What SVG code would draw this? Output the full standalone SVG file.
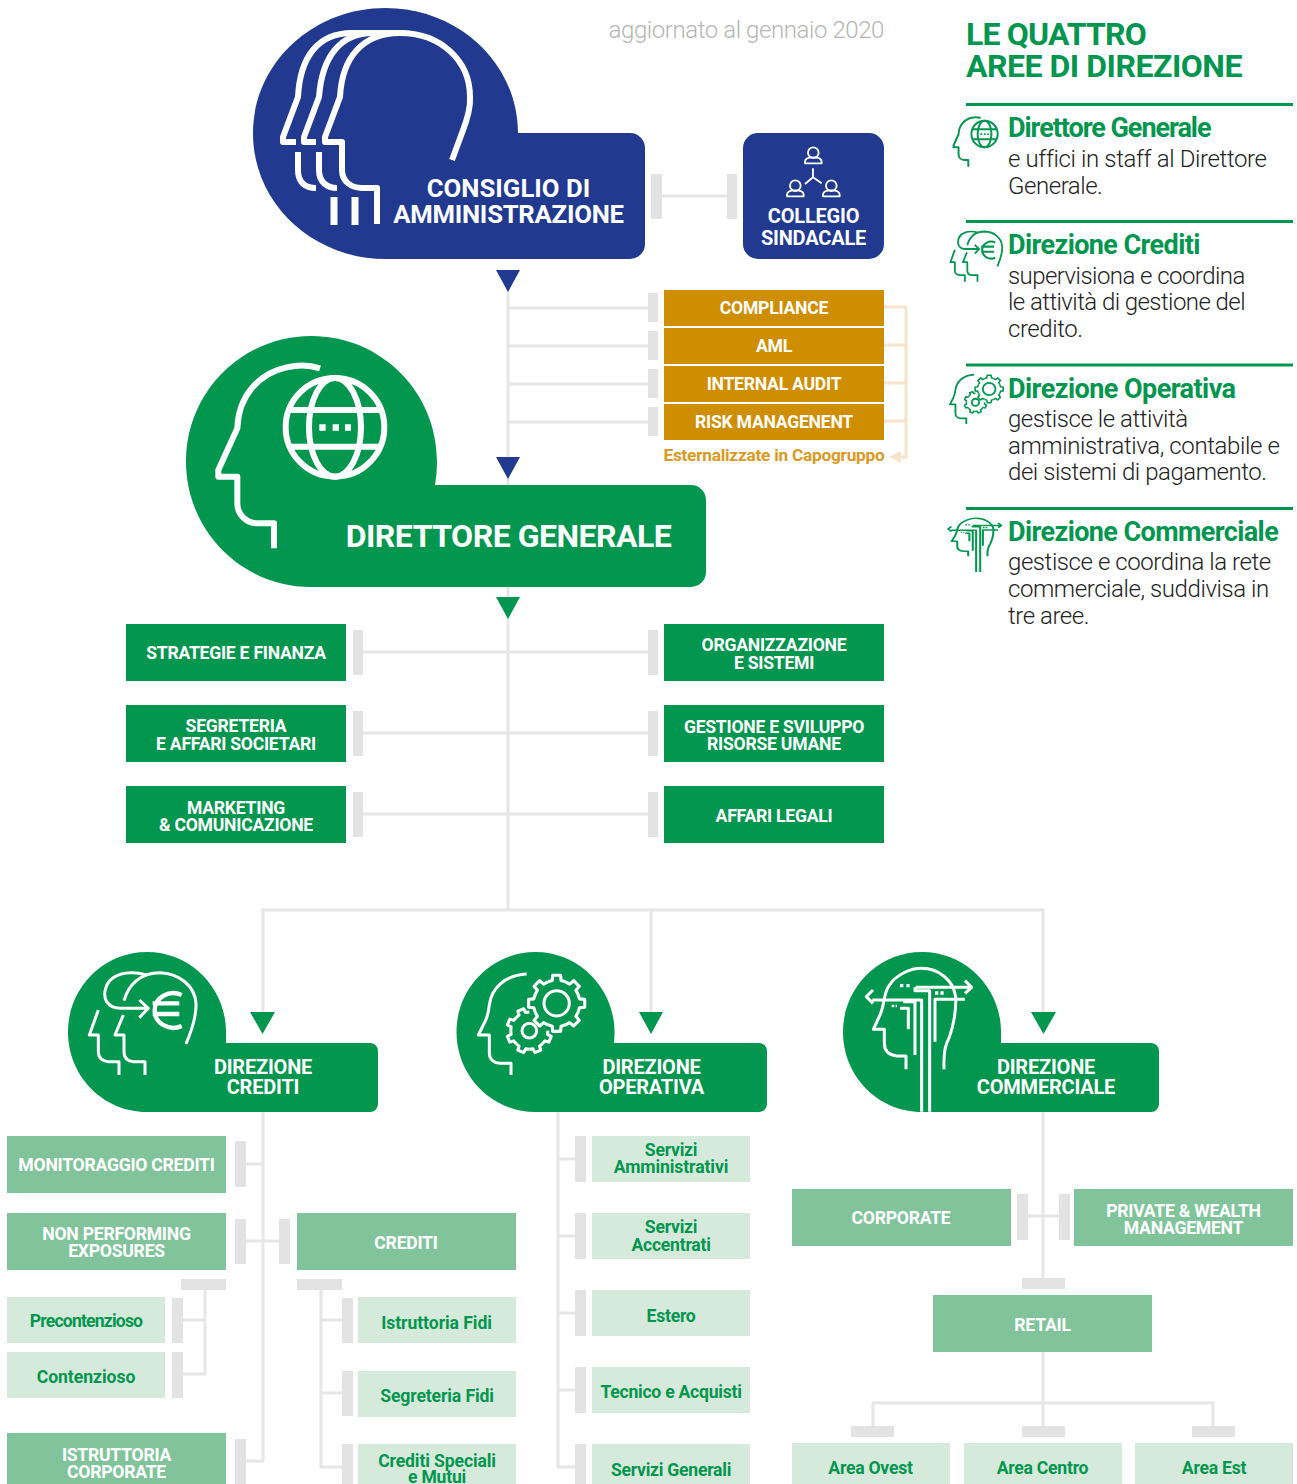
<svg xmlns="http://www.w3.org/2000/svg" xmlns:xlink="http://www.w3.org/1999/xlink" width="1297" height="1484" viewBox="0 0 1297 1484">
<style>
text{font-family:Roboto,"Liberation Sans",sans-serif;text-anchor:middle}
.b{font-weight:700;font-size:17.6px;letter-spacing:-.25px;fill:#fff}
.g{font-weight:700;font-size:17.6px;letter-spacing:-.25px;fill:#02964f}
.t{font-weight:700;font-size:20px;letter-spacing:-.2px;fill:#fff}
.h{font-weight:700;font-size:27px;letter-spacing:-.6px;fill:#02964f;text-anchor:start}
.p{font-weight:300;font-size:24px;letter-spacing:-.45px;fill:#222;text-anchor:start}
.ti{font-weight:700;font-size:32px;fill:#02964f;text-anchor:start}
.navy{fill:#213a8f}.green{fill:#02964f}.mid{fill:#81c49c}.pale{fill:#d6eadc}.ochre{fill:#ce8e00}
.cap{fill:#e3e3e3}
.ln{fill:none;stroke:#e6e6e6;stroke-width:3}
.ol{fill:none;stroke:#f6e4cb;stroke-width:3}
.ic{fill:none;stroke-linecap:butt;stroke-linejoin:round}
.wt{stroke:#fff;color:#fff}.gn{stroke:#02964f;color:#02964f}
.rule{stroke:#02964f;stroke-width:3}
</style>
<defs>
<g id="ico-dg">
<path d="M420 115C390 105 350 105 320 112C235 130 175 200 172 295L115 420V440H172V520C172 555 200 580 235 580H282V655"/>
<circle cx="465" cy="292" r="148"/>
<ellipse cx="465" cy="292" rx="78" ry="148"/>
<path d="M327 240H603M329 350H601"/>
<path d="M418 283h19v19h-19zM458 283h19v19h-19zM495 283h18v19h-18z" fill="currentColor" stroke="none"/>
</g>
<g id="ico-cr">
<path d="M378 312C400 260 410 225 408 190C405 140 360 100 300 98C240 98 205 135 192 182"/>
<path d="M258 105C230 95 190 95 165 110C135 125 128 165 140 185C150 200 165 205 180 205H265M238 180L265 205L238 233"/>
<path d="M190 225L165 285H192V335C192 355 205 365 220 365H255V405"/>
<path d="M115 210L88 285H115V335C115 355 130 365 145 365H177V405"/>
<path d="M365 165A56 52 0 1 0 365 258M278 190H358M278 222H358" stroke-width="13"/>
</g>
<path id="tooth" d="M-.314-.758L-.156-.805L-.139-.99H.139L.156-.805L.314-.758"/>
<g id="ico-op">
<path d="M230 102C170 105 125 140 118 195Q115 225 105 245L85 285H118V340C118 360 135 370 150 370H183V405"/>
<circle cx="320" cy="190" r="38"/>
<circle cx="238" cy="272" r="22"/>
<g transform="translate(320 190) scale(85)" stroke-width=".11">
<use href="#tooth"/><use href="#tooth" transform="rotate(45)"/><use href="#tooth" transform="rotate(90)"/><use href="#tooth" transform="rotate(135)"/><use href="#tooth" transform="rotate(180)"/><use href="#tooth" transform="rotate(225)"/><use href="#tooth" transform="rotate(270)"/><use href="#tooth" transform="rotate(315)"/>
</g>
<g transform="translate(238 272) scale(68)" stroke-width=".135">
<use href="#tooth" transform="rotate(112.5)"/><use href="#tooth" transform="rotate(157.5)"/><use href="#tooth" transform="rotate(202.5)"/><use href="#tooth" transform="rotate(247.5)"/><use href="#tooth" transform="rotate(292.5)"/><use href="#tooth" transform="rotate(337.5)"/>
</g>
</g>
<g id="ico-co">
<path d="M213 388V348H185C160 345 148 330 148 310V268H115L135 225C150 190 145 165 160 140C185 100 230 85 260 85C310 85 355 120 362 170C365 220 350 280 335 310C325 335 327 360 327 388"/>
<path d="M112 180H260V515M114 150L94 170L114 190M242 142H408M390 122L410 142L390 160M240 142V152H284V515M300 305V178H390M240 345V185H205M195 205H220V268"/>
<path d="M195 132h10v10h-10zM214 132h10v10h-10zM300 154h10v10h-10zM316 154h10v10h-10zM170 194h8v8h-8zM182 194h4v8h-4z" fill="currentColor" stroke="none"/>
</g>
<g id="person">
<circle cx="0" cy="-17" r="16"/>
<path d="M-25 15V10C-25 0-12-3 0-3C12-3 25 0 25 10V15Z"/>
</g>
</defs>

<g id="connectors">
<path class="ln" d="M508 290V910M508 308H650M508 346H650M508 384H650M508 422H650M360 652H650M360 733H650M360 814H650M263 1012V910H1043V1012M651 910V1012"/>
<path class="ln" d="M660 196H730"/>
<path class="ol" d="M884 307H906M884 345H906M884 383H906M884 421H906M906 307V457H898"/>
<path fill="#f6e4cb" d="M889 457L901 451V463Z"/>
<path class="ln" d="M263 1112V1461H246M246 1164H263M246 1241H280M205 1290V1374H183M183 1320H205M321 1290V1467H342M321 1320H342M321 1393H342"/>
<path class="ln" d="M558 1112V1467H575M558 1159H575M558 1236H575M558 1313H575M558 1390H575"/>
<path class="ln" d="M1043 1112V1280M1028 1216H1060M1043 1352V1427M873 1427V1403H1213V1427"/>
<g class="cap">
<rect x="651" y="174" width="11" height="45"/><rect x="727" y="174" width="10" height="45"/>
<rect x="648" y="293" width="10" height="29"/><rect x="648" y="331" width="10" height="29"/><rect x="648" y="369" width="10" height="29"/><rect x="648" y="407" width="10" height="29"/>
<rect x="353" y="630" width="10" height="45"/><rect x="648" y="630" width="10" height="45"/>
<rect x="353" y="711" width="10" height="45"/><rect x="648" y="711" width="10" height="45"/>
<rect x="353" y="792" width="10" height="45"/><rect x="648" y="792" width="10" height="45"/>
<rect x="235" y="1141" width="11" height="46"/><rect x="235" y="1219" width="11" height="45"/><rect x="279" y="1219" width="11" height="45"/><rect x="235" y="1439" width="11" height="45"/>
<rect x="181" y="1279" width="45" height="11"/><rect x="172" y="1298" width="11" height="45"/><rect x="172" y="1352" width="11" height="46"/>
<rect x="297" y="1279" width="45" height="11"/><rect x="342" y="1298" width="11" height="45"/><rect x="342" y="1371" width="11" height="45"/><rect x="342" y="1444" width="11" height="40"/>
<rect x="575" y="1136" width="11" height="46"/><rect x="575" y="1213" width="11" height="46"/><rect x="575" y="1290" width="11" height="46"/><rect x="575" y="1367" width="11" height="46"/><rect x="575" y="1444" width="11" height="40"/>
<rect x="1017" y="1194" width="11" height="46"/><rect x="1059" y="1194" width="11" height="46"/><rect x="1022" y="1278" width="43" height="11"/>
<rect x="851" y="1426" width="43" height="11"/><rect x="1022" y="1426" width="43" height="11"/><rect x="1192" y="1426" width="43" height="11"/>
</g>
<path class="navy" d="M496 270H520L508 292ZM496 457H520L508 479Z"/>
<path class="green" d="M496 597H520L508 619ZM250 1012H275L262.500 1034ZM639 1012H663L651 1034ZM1031 1012H1056L1043.500 1034Z"/>
</g>

<text x="884" y="38" style="font-weight:300;font-size:24px;letter-spacing:-.42px;fill:#b5b5b5;text-anchor:end">aggiornato al gennaio 2020</text>

<g id="consiglio">
<path class="navy" d="M518 133H630A15 15 0 0 1 645 148V244A15 15 0 0 1 630 259H385.500C312 259 253 203 253 133.500C253 64 312 8 385.500 8C459 8 518 64 518 133Z"/>
<g class="ic wt" stroke-width="6">
<path d="M452 160L462 133Q471 110 470 97C470 60 440 33 400 33C363 33 342 57 340 97L325 137V142H342V170C342 182 352 188 362 188H377V224"/>
<path d="M405 33H373C340 33 322 57 319 97L304 137V142H316M319 152V170C319 182 327 188 337 188"/>
<path d="M380 33H352C318 33 300 57 298 97L283 137V142H296M298 152V170C298 182 305 188 316 188"/>
<path d="M334 197V225M355 197V225" stroke-width="7"/>
</g>
<text x="508.500" y="197" class="t" style="font-size:25.700px;letter-spacing:.02px">CONSIGLIO DI</text>
<text x="508.500" y="223" class="t" style="font-size:25.700px;letter-spacing:-.25px">AMMINISTRAZIONE</text>
</g>

<g id="collegio">
<rect class="navy" x="743" y="133" width="141" height="126" rx="15"/>
<g class="ic wt" transform="translate(640 120) scale(.3333)" stroke-width="5.500">
<use href="#person" x="520" y="115"/><use href="#person" x="466" y="214"/><use href="#person" x="574" y="214"/>
<path d="M519 145V172L495 192M519 172L545 190"/>
</g>
<text x="813.500" y="223" class="t">COLLEGIO</text>
<text x="813.500" y="245" class="t">SINDACALE</text>
</g>

<g id="compliance"><rect class="ochre" x="664" y="290" width="220" height="36"/><text x="774" y="314" class="b">COMPLIANCE</text></g>
<g id="aml"><rect class="ochre" x="664" y="328" width="220" height="36"/><text x="774" y="352" class="b">AML</text></g>
<g id="internal-audit"><rect class="ochre" x="664" y="366" width="220" height="36"/><text x="774" y="390" class="b">INTERNAL AUDIT</text></g>
<g id="risk"><rect class="ochre" x="664" y="404" width="220" height="36"/><text x="774" y="428" class="b">RISK MANAGENENT</text></g>
<text x="774" y="461" class="b" style="fill:#db9a1f;font-size:17.300px">Esternalizzate in Capogruppo</text>

<g id="direttore">
<path class="green" d="M435 485H691A15 15 0 0 1 706 500V572A15 15 0 0 1 691 587H311.500C242 587 186 531 186 461.500C186 392 242 336 311.500 336C381 336 437 392 437 461.500Q437 474 435 485Z"/>
<use href="#ico-dg" class="ic wt" transform="translate(180 330) scale(.3333)" stroke-width="18"/>
<text x="508.500" y="547" class="t" style="font-size:32px;letter-spacing:-.5px">DIRETTORE GENERALE</text>
</g>

<g id="strategie"><rect class="green" x="126" y="624" width="220" height="57"/><text x="236" y="659" class="b">STRATEGIE E FINANZA</text></g>
<g id="segreteria"><rect class="green" x="126" y="705" width="220" height="57"/><text x="236" y="732" class="b">SEGRETERIA</text><text x="236" y="750" class="b">E AFFARI SOCIETARI</text></g>
<g id="marketing"><rect class="green" x="126" y="786" width="220" height="57"/><text x="236" y="814" class="b">MARKETING</text><text x="236" y="831" class="b">&amp; COMUNICAZIONE</text></g>
<g id="organizzazione"><rect class="green" x="664" y="624" width="220" height="57"/><text x="774" y="651" class="b">ORGANIZZAZIONE</text><text x="774" y="669" class="b">E SISTEMI</text></g>
<g id="gestione"><rect class="green" x="664" y="705" width="220" height="57"/><text x="774" y="733" class="b">GESTIONE E SVILUPPO</text><text x="774" y="750" class="b">RISORSE UMANE</text></g>
<g id="legali"><rect class="green" x="664" y="786" width="220" height="57"/><text x="774" y="822" class="b">AFFARI LEGALI</text></g>

<g id="dir-crediti">
<path class="green" d="M226 1043H370A8 8 0 0 1 378 1051V1104A8 8 0 0 1 370 1112H147C103 1112 68 1076 68 1032C68 988 103 952 147 952C191 952 226 988 226 1032Q226 1038 226 1043Z"/>
<use href="#ico-cr" class="ic wt" transform="translate(60 940) scale(.3333)" stroke-width="9"/>
<text x="263" y="1074" class="t">DIREZIONE</text><text x="263" y="1094" class="t">CREDITI</text>
</g>
<g id="dir-operativa">
<path class="green" d="M614 1043H759A8 8 0 0 1 767 1051V1104A8 8 0 0 1 759 1112H535.500C492 1112 456.500 1076 456.500 1032C456.500 988 492 952 535.500 952C579 952 614.500 988 614.500 1032Q614.500 1038 614 1043Z"/>
<use href="#ico-op" class="ic wt" transform="translate(450 940) scale(.3333)" stroke-width="9"/>
<text x="651.500" y="1074" class="t">DIREZIONE</text><text x="651.500" y="1094" class="t">OPERATIVA</text>
</g>
<g id="dir-commerciale">
<path class="green" d="M1001 1043H1151A8 8 0 0 1 1159 1051V1104A8 8 0 0 1 1151 1112H922C878 1112 843 1076 843 1032C843 988 878 952 922 952C966 952 1001 988 1001 1032Q1001 1038 1001 1043Z"/>
<use href="#ico-co" class="ic wt" transform="translate(835 940) scale(.3333)" stroke-width="9"/>
<text x="1046" y="1074" class="t">DIREZIONE</text><text x="1046" y="1094" class="t">COMMERCIALE</text>
</g>

<g id="monitoraggio"><rect class="mid" x="7" y="1136" width="219" height="57"/><text x="116.500" y="1171" class="b">MONITORAGGIO CREDITI</text></g>
<g id="npe"><rect class="mid" x="7" y="1213" width="219" height="57"/><text x="116.500" y="1240" class="b">NON PERFORMING</text><text x="116.500" y="1257" class="b">EXPOSURES</text></g>
<g id="precontenzioso"><rect class="pale" x="7" y="1297" width="158" height="46"/><text x="86" y="1327" class="g" style="letter-spacing:-.82px">Precontenzioso</text></g>
<g id="contenzioso"><rect class="pale" x="7" y="1352" width="158" height="46"/><text x="86" y="1383" class="g" style="letter-spacing:-.05px">Contenzioso</text></g>
<g id="istr-corp"><rect class="mid" x="7" y="1433" width="219" height="57"/><text x="116.500" y="1461" class="b">ISTRUTTORIA</text><text x="116.500" y="1478" class="b">CORPORATE</text></g>
<g id="crediti"><rect class="mid" x="297" y="1213" width="219" height="57"/><text x="406" y="1249" class="b">CREDITI</text></g>
<g id="istr-fidi"><rect class="pale" x="358" y="1297" width="158" height="46"/><text x="436.500" y="1329" class="g" style="letter-spacing:-.07px">Istruttoria Fidi</text></g>
<g id="segr-fidi"><rect class="pale" x="358" y="1371" width="158" height="46"/><text x="437" y="1402" class="g" style="letter-spacing:-.12px">Segreteria Fidi</text></g>
<g id="cred-spec"><rect class="pale" x="358" y="1444" width="158" height="46"/><text x="437" y="1467" class="g" style="letter-spacing:-.12px">Crediti Speciali</text><text x="437" y="1483" class="g">e Mutui</text></g>

<g id="serv-amm"><rect class="pale" x="592" y="1136" width="158" height="46"/><text x="671" y="1156" class="g">Servizi</text><text x="671" y="1173" class="g" style="letter-spacing:-.1px">Amministrativi</text></g>
<g id="serv-acc"><rect class="pale" x="592" y="1213" width="158" height="46"/><text x="671" y="1233" class="g">Servizi</text><text x="671" y="1251" class="g">Accentrati</text></g>
<g id="estero"><rect class="pale" x="592" y="1290" width="158" height="46"/><text x="671" y="1322" class="g">Estero</text></g>
<g id="tecnico"><rect class="pale" x="592" y="1367" width="158" height="46"/><text x="671" y="1398" class="g">Tecnico e Acquisti</text></g>
<g id="serv-gen"><rect class="pale" x="592" y="1444" width="158" height="46"/><text x="671" y="1476" class="g">Servizi Generali</text></g>

<g id="corporate"><rect class="mid" x="792" y="1189" width="219" height="57"/><text x="901" y="1224" class="b">CORPORATE</text></g>
<g id="private"><rect class="mid" x="1074" y="1189" width="219" height="57"/><text x="1183.500" y="1217" class="b">PRIVATE &amp; WEALTH</text><text x="1183.500" y="1234" class="b">MANAGEMENT</text></g>
<g id="retail"><rect class="mid" x="933" y="1295" width="219" height="57"/><text x="1042.500" y="1331" class="b">RETAIL</text></g>
<g id="area-ovest"><rect class="pale" x="792" y="1443" width="158" height="47"/><text x="870.500" y="1474" class="g">Area Ovest</text></g>
<g id="area-centro"><rect class="pale" x="964" y="1443" width="158" height="47"/><text x="1042.500" y="1474" class="g">Area Centro</text></g>
<g id="area-est"><rect class="pale" x="1135" y="1443" width="158" height="47"/><text x="1214" y="1474" class="g">Area Est</text></g>

<g id="legend">
<text x="966" y="45" class="ti" style="letter-spacing:-.82px">LE QUATTRO</text>
<text x="966" y="76.500" class="ti" style="letter-spacing:-.48px">AREE DI DIREZIONE</text>
<path class="rule" d="M966 104.500H1293M966 221.500H1293M966 365H1293M966 508.500H1293"/>
<use href="#ico-dg" class="ic gn" transform="translate(943.300 107.700) scale(.0887 .09)" stroke-width="22"/>
<use href="#ico-cr" class="ic gn" transform="translate(936.300 215.500) scale(.1615 .1635)" stroke-width="11"/>
<use href="#ico-op" class="ic gn" transform="translate(935.800 358) scale(.1667 .163)" stroke-width="11"/>
<use href="#ico-co" class="ic gn" transform="translate(932.200 507.700) scale(.169 .125)" stroke-width="12"/>
<text x="1008" y="137" class="h" style="letter-spacing:-1.05px">Direttore Generale</text>
<text x="1008" y="167" class="p" style="letter-spacing:-.37px">e uffici in staff al Direttore</text>
<text x="1008" y="194" class="p">Generale.</text>
<text x="1008" y="254" class="h">Direzione Crediti</text>
<text x="1008" y="284" class="p" style="letter-spacing:-.55px">supervisiona e coordina</text>
<text x="1008" y="310" class="p" style="letter-spacing:-.57px">le attività di gestione del</text>
<text x="1008" y="337" class="p">credito.</text>
<text x="1008" y="398" class="h" style="letter-spacing:-.55px">Direzione Operativa</text>
<text x="1008" y="427" class="p">gestisce le attività</text>
<text x="1008" y="454" class="p" style="letter-spacing:-.39px">amministrativa, contabile e</text>
<text x="1008" y="480" class="p">dei sistemi di pagamento.</text>
<text x="1008" y="541" class="h">Direzione Commerciale</text>
<text x="1008" y="570" class="p" style="letter-spacing:-.43px">gestisce e coordina la rete</text>
<text x="1008" y="597" class="p" style="letter-spacing:-.42px">commerciale, suddivisa in</text>
<text x="1008" y="624" class="p">tre aree.</text>
</g>
</svg>
